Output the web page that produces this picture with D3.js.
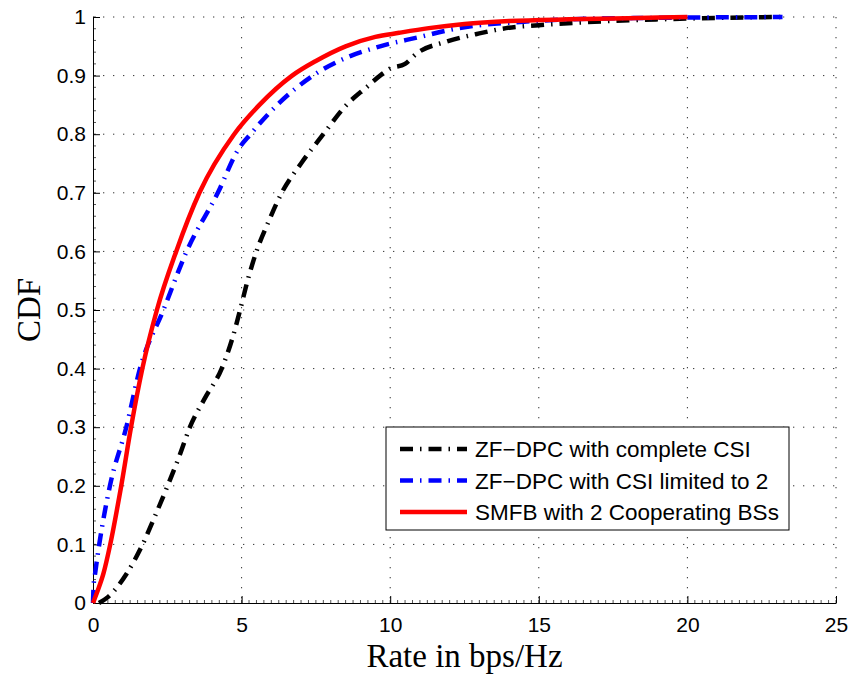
<!DOCTYPE html>
<html>
<head>
<meta charset="utf-8">
<script src="https://cdn.jsdelivr.net/npm/d3@7"></script>
<style>
  body { margin: 0; background: #fff; }
  svg { display: block; }
  .tick text { font-family: "Liberation Sans", Arial, sans-serif; font-size: 21px; fill: #000; }
</style>
</head>
<body>
<div id="chart"></div>
<script>
// curves: rate (bps/Hz) vs CDF
const zfFullX = [0.2, 0.5, 1.13, 1.67, 2.1, 2.51, 2.9, 3.26, 3.77, 4.33, 4.68, 4.95, 5.2, 5.5, 5.9, 6.35, 7.0, 7.75, 8.53, 9.2, 9.66, 10.0, 10.5, 10.9, 11.9, 13.0, 13.9, 15.0, 16.2, 17.3, 19.0, 20.5, 23.2]
const zfFullY = [0, 0.01, 0.05, 0.10, 0.15, 0.20, 0.25, 0.30, 0.35, 0.40, 0.45, 0.50, 0.55, 0.60, 0.65, 0.70, 0.75, 0.80, 0.85, 0.88, 0.90, 0.912, 0.92, 0.938, 0.958, 0.972, 0.981, 0.986, 0.990, 0.993, 0.996, 0.998, 1.0]

const zfLimX = [0, 0.02, 0.07, 0.21, 0.57, 1.12, 1.58, 2.37, 3.15, 4.2, 4.9, 5.3, 6.2, 7.4, 8.5, 9.66, 11.0, 12.0, 13.0, 14.5, 16.0, 18.0, 20.0, 23.2]
const zfLimY = [0, 0.03, 0.05, 0.10, 0.20, 0.30, 0.40, 0.50, 0.60, 0.70, 0.775, 0.80, 0.85, 0.90, 0.93, 0.95, 0.966, 0.978, 0.986, 0.992, 0.996, 0.998, 0.999, 1.0]

const smfbX = [0, 0.15, 0.35, 0.58, 0.95, 1.28, 1.66, 2.15, 2.8, 3.58, 4.75, 5.6, 6.7, 7.5, 8.5, 9.5, 10.3, 11.3, 12.5, 14.0, 16.0, 18.0, 20.0]
const smfbY = [0, 0.02, 0.05, 0.10, 0.20, 0.30, 0.40, 0.50, 0.60, 0.70, 0.80, 0.85, 0.90, 0.925, 0.95, 0.966, 0.973, 0.981, 0.988, 0.993, 0.996, 0.998, 1.0]

const seriesNames = ['ZF\u2212DPC with complete CSI', 'ZF\u2212DPC with CSI limited to 2', 'SMFB with 2 Cooperating BSs']
const xTicks = [0, 5, 10, 15, 20, 25]
const yTicks = [0, 0.1, 0.2, 0.3, 0.4, 0.5, 0.6, 0.7, 0.8, 0.9, 1]

const W = 852, H = 677
const margin = {top: 17, right: 16, bottom: 74, left: 93}
const width = W - margin.left - margin.right
const height = H - margin.top - margin.bottom

const svg = d3.select('#chart').append('svg')
    .attr('width', W)
    .attr('height', H)
const g = svg.append('g')
    .attr('transform', 'translate(' + margin.left + ',' + margin.top + ')')

const x = d3.scaleLinear().domain([0, 25]).range([0, width])
const y = d3.scaleLinear().domain([0, 1]).range([height, 0])

// dotted grid (also stands in for top/right edges)
g.append('g').selectAll('line')
    .data(xTicks.filter(d => d > 0))
    .enter().append('line')
    .attr('x1', d => x(d)).attr('x2', d => x(d))
    .attr('y1', 0).attr('y2', height)
    .attr('stroke', '#333').attr('stroke-width', 1)
    .attr('stroke-dasharray', '1.3,8.7')
g.append('g').selectAll('line')
    .data(yTicks.filter(d => d > 0))
    .enter().append('line')
    .attr('y1', d => y(d)).attr('y2', d => y(d))
    .attr('x1', 0).attr('x2', width)
    .attr('stroke', '#333').attr('stroke-width', 1)
    .attr('stroke-dasharray', '1.3,8.7')

// minor ticks
g.append('g').selectAll('line')
    .data(d3.range(0, 25.01, 0.25))
    .enter().append('line')
    .attr('x1', d => x(d)).attr('x2', d => x(d))
    .attr('y1', height).attr('y2', height - 3)
    .attr('stroke', '#555')
g.append('g').selectAll('line')
    .data(d3.range(0, 1.001, 0.02))
    .enter().append('line')
    .attr('y1', d => y(d)).attr('y2', d => y(d))
    .attr('x1', 0).attr('x2', 3)
    .attr('stroke', '#555')

const xAxis = g.append('g')
    .attr('transform', 'translate(0,' + height + ')')
    .call(d3.axisBottom(x).tickValues(xTicks).tickSizeInner(-7).tickSizeOuter(0).tickPadding(14).tickFormat(d3.format('d')))
xAxis.select('.domain').attr('stroke', '#000')

const yAxis = g.append('g')
    .call(d3.axisLeft(y).tickValues(yTicks).tickSizeInner(-7).tickSizeOuter(0).tickPadding(8).tickFormat(d => d === 0 || d === 1 ? d : d3.format('.1f')(d)))
yAxis.select('.domain').attr('stroke', '#000')
yAxis.selectAll('.tick text').attr('x', -7)

// axis titles
svg.append('text')
    .attr('x', margin.left + width / 2)
    .attr('y', 667)
    .attr('text-anchor', 'middle')
    .style('font-family', '"Liberation Serif", "Times New Roman", serif')
    .style('font-size', '33px')
    .text('Rate in bps/Hz')
svg.append('text')
    .attr('transform', 'translate(40,' + (margin.top + height / 2) + ') rotate(-90)')
    .attr('text-anchor', 'middle')
    .style('font-family', '"Liberation Serif", "Times New Roman", serif')
    .style('font-size', '33px')
    .text('CDF')

const line = d3.line()
    .x(d => x(d[0]))
    .y(d => y(d[1]))
    .curve(d3.curveMonotoneX)

const series = [
    {name: seriesNames[0], xs: zfFullX, ys: zfFullY, color: '#000', dash: '13,7,1.5,7'},
    {name: seriesNames[1], xs: zfLimX, ys: zfLimY, color: '#0000ff', dash: '13,7,1.5,7'},
    {name: seriesNames[2], xs: smfbX, ys: smfbY, color: '#ff0000', dash: null}
]

series.forEach(function(s) {
    const pts = s.xs.map((v, i) => [v, s.ys[i]])
    g.append('path')
        .datum(pts)
        .attr('d', line)
        .attr('fill', 'none')
        .attr('stroke', s.color)
        .attr('stroke-width', 4.5)
        .attr('stroke-dasharray', s.dash)
})

// legend
const legend = svg.append('g').attr('transform', 'translate(386,427)')
legend.append('rect')
    .attr('width', 403).attr('height', 103)
    .attr('fill', '#fff').attr('stroke', '#000').attr('stroke-width', 1)
series.forEach(function(s, i) {
    const cy = 22 + i * 31.5
    legend.append('line')
        .attr('x1', 14).attr('x2', 81)
        .attr('y1', cy).attr('y2', cy)
        .attr('stroke', s.color).attr('stroke-width', 4.5)
        .attr('stroke-dasharray', s.dash)
    legend.append('text')
        .attr('x', 89).attr('y', cy + 8)
        .style('font-family', '"Liberation Sans", Arial, sans-serif')
        .style('font-size', '22.5px')
        .text(s.name)
})
</script>
</body>
</html>
